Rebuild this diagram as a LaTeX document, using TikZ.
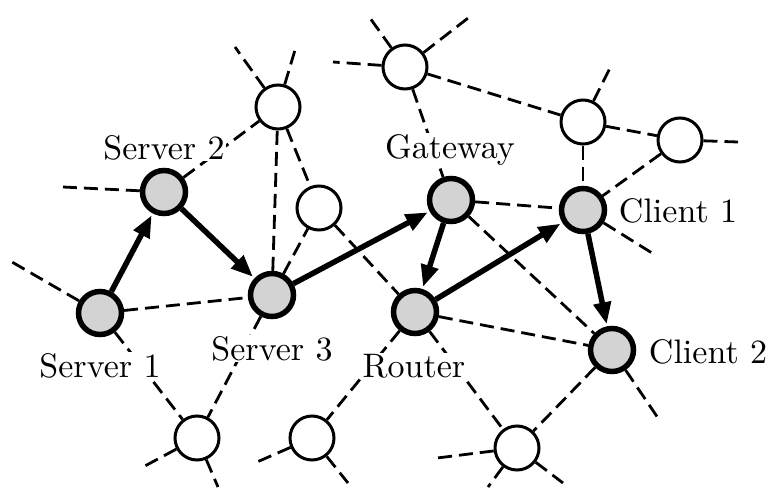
\documentclass[tikz,border=0pt]{standalone}
\usepackage{fontspec}
\usepackage{xcolor}
\usepackage{tikz}
\usetikzlibrary{arrows.meta}
\newfontfamily\tagfont{lmroman10-regular.otf}
\definecolor{hostgray}{RGB}{211,211,211}

\begin{document}
\begin{tikzpicture}[x=1pt,y=-1pt]

	\tikzstyle{host} = [circle,draw,line width=5.5pt,fill=hostgray,minimum size=43pt,inner sep=0pt]
	\tikzstyle{relay} = [circle,draw,line width=3pt,fill=white,minimum size=44pt,inner sep=0pt]
	\tikzstyle{link} = [line width=2.8pt,dash pattern=on 14pt off 7pt]
	\tikzstyle{hop} = [line width=5.5pt,-{Triangle[length=22pt,width=17pt]},shorten >=2pt]
	\tikzstyle{tag} = [fill=white,inner sep=1pt,anchor=base,font=\tagfont\fontsize{34}{40}\selectfont]

	\useasboundingbox (0,0) rectangle (770,487);

	% hosts on the path
	\node[host] (srv1) at (100,313) {};
	\node[host] (srv2) at (164,192) {};
	\node[host] (srv3) at (272,295) {};
	\node[host] (gw) at (451,200) {};
	\node[host] (rtr) at (415,312) {};
	\node[host] (cl1) at (583,210) {};
	\node[host] (cl2) at (612,350) {};

	% other nodes
	\node[relay] (r1) at (278,107) {};
	\node[relay] (r2) at (405,67) {};
	\node[relay] (r3) at (583,122) {};
	\node[relay] (r4) at (680,140) {};
	\node[relay] (r5) at (319,208) {};
	\node[relay] (r6) at (197,438) {};
	\node[relay] (r7) at (312,438) {};
	\node[relay] (r8) at (517,448) {};

	% loose ends
	\coordinate (e1) at (12,262);
	\coordinate (e2) at (63,187);
	\coordinate (e3) at (235,47);
	\coordinate (e4) at (295,50);
	\coordinate (e5) at (370,18);
	\coordinate (e6) at (333,62);
	\coordinate (e7) at (472,15);
	\coordinate (e8) at (610,68);
	\coordinate (e9) at (738,142);
	\coordinate (e10) at (652,253);
	\coordinate (e11) at (658,418);
	\coordinate (e12) at (143,467);
	\coordinate (e13) at (218,487);
	\coordinate (e14) at (257,462);
	\coordinate (e15) at (348,483);
	\coordinate (e16) at (437,458);
	\coordinate (e17) at (488,487);
	\coordinate (e18) at (563,483);

	% links
	\draw[link] (srv1) -- (srv3);
	\draw[link] (srv1) -- (r6);
	\draw[link] (srv2) -- (r1);
	\draw[link] (srv3) -- (r1);
	\draw[link] (srv3) -- (r5);
	\draw[link] (srv3) -- (r6);
	\draw[link] (r1) -- (r5);
	\draw[link] (r5) -- (rtr);
	\draw[link] (r2) -- (gw);
	\draw[link] (r2) -- (r3);
	\draw[link] (r3) -- (r4);
	\draw[link] (r3) -- (cl1);
	\draw[link] (r4) -- (cl1);
	\draw[link] (gw) -- (cl1);
	\draw[link] (gw) -- (cl2);
	\draw[link] (rtr) -- (cl2);
	\draw[link] (rtr) -- (r7);
	\draw[link] (rtr) -- (r8);
	\draw[link] (cl2) -- (r8);

	\draw[link] (srv1) -- (e1);
	\draw[link] (srv2) -- (e2);
	\draw[link] (r1) -- (e3);
	\draw[link] (r1) -- (e4);
	\draw[link] (r2) -- (e5);
	\draw[link] (r2) -- (e6);
	\draw[link] (r2) -- (e7);
	\draw[link] (r3) -- (e8);
	\draw[link] (r4) -- (e9);
	\draw[link] (cl1) -- (e10);
	\draw[link] (cl2) -- (e11);
	\draw[link] (r6) -- (e12);
	\draw[link] (r6) -- (e13);
	\draw[link] (r7) -- (e14);
	\draw[link] (r7) -- (e15);
	\draw[link] (r8) -- (e16);
	\draw[link] (r8) -- (e17);
	\draw[link] (r8) -- (e18);

	% labels
	\node[tag] (lsrv1) at (100,377) {Server 1};
	\node[tag] (lsrv2) at (164,159) {Server 2};
	\node[tag] (lsrv3) at (272,360) {Server 3};
	\node[tag] (lgw) at (450,158) {Gateway};
	\node[tag] (lrtr) at (414,377) {Router};
	\node[tag] (lcl1) at (678,222) {Client 1};
	\node[tag] (lcl2) at (708,363) {Client 2};

	% the route
	\draw[hop] (srv1) -- (srv2);
	\draw[hop] (srv2) -- (srv3);
	\draw[hop] (srv3) -- (gw);
	\draw[hop] (gw) -- (rtr);
	\draw[hop] (rtr) -- (cl1);
	\draw[hop] (cl1) -- (cl2);

\end{tikzpicture}
\end{document}
